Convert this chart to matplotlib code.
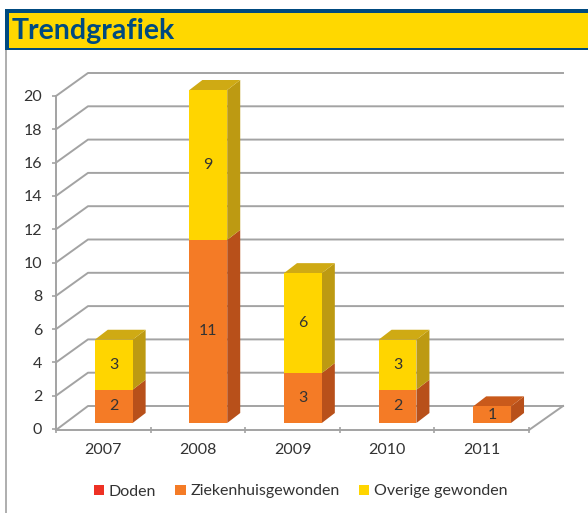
import matplotlib
matplotlib.use("Agg")
import numpy as np
import matplotlib.pyplot as plt
from matplotlib.patches import Rectangle, Polygon

plt.rcParams['font.family'] = ['Lato', 'DejaVu Sans']

years = ['2007', '2008', '2009', '2010', '2011']
doden = [0, 0, 0, 0, 0]
ziekenhuis = [2, 11, 3, 2, 1]
overig = [3, 9, 6, 3, 0]
yticks = list(range(0, 21, 2))

W, H = 588, 513
GRAY = '#a3a3a3'
TXT = '#333333'
BLUE = '#004a80'
YELLOW = '#ffd800'
FS = 11.5

# front, side, top colours per series
C_RED = '#ee3124'
C_ORANGE = ('#f47b26', '#b8501a', '#c95a1b')
C_YELLOW = ('#ffd500', '#bd9a12', '#cfaa14')


def px_x(x):
    return x / W


def px_y(y):
    return 1 - y / H


fig = plt.figure(figsize=(W / 100, H / 100), dpi=100)

# header band
fig.add_artist(Rectangle((px_x(5), px_y(50)), 1, 41 / H, transform=fig.transFigure, fc=BLUE, ec='none'))
fig.add_artist(Rectangle((px_x(9), px_y(48)), 1, 35 / H, transform=fig.transFigure, fc=YELLOW, ec='none'))
fig.add_artist(Rectangle((px_x(5), 0), 1.5 / W, px_y(50), transform=fig.transFigure, fc='#b0b0b0', ec='none'))
fig.text(px_x(12), px_y(31), 'Trendgrafiek', color=BLUE, fontsize=20.5, fontweight='bold', va='center')

ax = fig.add_axes([px_x(56), px_y(429), (529 - 56) / W, (429 - 96) / H])
ax.set_xlim(0, 5)
ax.set_ylim(0, 20)
ax.patch.set_alpha(0)

# depth of the fake 3d box, in data units
px_u = 473 / 5
px_v = 333 / 20
box_dx = 32 / px_u
box_end = 34 / px_u
box_dy = 23 / px_v
bar_dx = 13 / px_u
bar_dy = 10 / px_v
floor = -1 / px_v

for v in yticks:
    base = floor if v == 0 else v
    ax.plot([0, box_dx, 5 + box_end], [base, v + box_dy, v + box_dy], color=GRAY, lw=1.4,
            clip_on=False, zorder=1, solid_joinstyle='round')
ax.plot([5, 5 + box_end], [floor, box_dy], color=GRAY, lw=1.4, clip_on=False, zorder=1)

x = np.arange(len(years)) + 0.61
width = 0.40
base_y = 6 / px_v  # bars stand a little behind the front edge


def draw_segment(xc, bottom, height, cols, top):
    l, r = xc - width / 2, xc + width / 2
    y0, y1 = base_y + bottom, base_y + bottom + height
    ax.add_patch(Polygon([(r, y0), (r + bar_dx, y0 + bar_dy), (r + bar_dx, y1 + bar_dy), (r, y1)],
                         fc=cols[1], ec='none', zorder=3, clip_on=False))
    if top:
        ax.add_patch(Polygon([(l, y1), (r, y1), (r + bar_dx, y1 + bar_dy), (l + bar_dx, y1 + bar_dy)],
                             fc=cols[2], ec='none', zorder=3, clip_on=False))
    ax.add_patch(Rectangle((l, y0), width, y1 - y0, fc=cols[0], ec='none', zorder=4, clip_on=False))
    ax.text(xc, (y0 + y1) / 2, str(height), ha='center', va='center', fontsize=FS, color=TXT, zorder=5)


for i in range(len(years)):
    if ziekenhuis[i]:
        draw_segment(x[i], 0, ziekenhuis[i], C_ORANGE, overig[i] == 0)
    if overig[i]:
        draw_segment(x[i], ziekenhuis[i], overig[i], C_YELLOW, True)

ax.spines['top'].set_visible(False)
ax.spines['right'].set_visible(False)
ax.spines['left'].set_color(GRAY)
ax.spines['left'].set_linewidth(1.4)
ax.spines['bottom'].set_color(GRAY)
ax.spines['bottom'].set_linewidth(1.4)
ax.spines['bottom'].set_position(('outward', 0.8))

ax.set_yticks(yticks)
ax.tick_params(axis='y', direction='out', length=3, width=1.2, color=GRAY, labelcolor=TXT, labelsize=FS, pad=7)
ax.set_xticks(range(6))
ax.set_xticklabels([])
ax.set_xticks(np.arange(len(years)) + 0.5, minor=True)
ax.set_xticklabels(years, minor=True)
ax.tick_params(axis='x', which='major', direction='inout', length=5, width=1.2, color=GRAY)
ax.tick_params(axis='x', which='minor', length=0, labelcolor=TXT, labelsize=FS, pad=9)

handles = [Rectangle((0, 0), 1, 1, fc=c, ec='none') for c in (C_RED, C_ORANGE[0], C_YELLOW[0])]
fig.legend(handles, ['Doden', 'Ziekenhuisgewonden', 'Overige gewonden'], loc='center',
           bbox_to_anchor=(px_x(300.5), px_y(491.5)), ncol=3, frameon=False, handlelength=0.65,
           handleheight=0.65, handletextpad=0.3, columnspacing=1.2,
           prop={'size': FS}, labelcolor=TXT)

fig.savefig('out.png', dpi=100)
